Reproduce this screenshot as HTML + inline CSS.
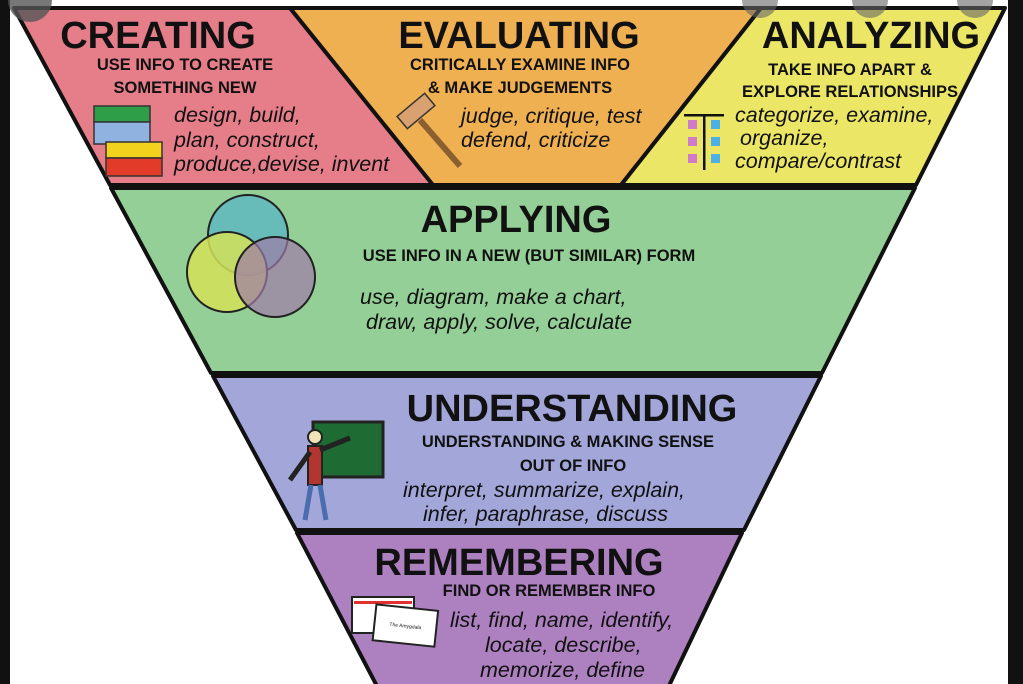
<!DOCTYPE html>
<html><head><meta charset="utf-8"><style>
html,body{margin:0;padding:0;background:#fff;}
svg{display:block;}
text{font-family:"Liberation Sans",sans-serif;fill:#111;}
.t{font-weight:bold;font-size:38px;}
.s{font-weight:bold;font-size:16.5px;}
.i{font-style:italic;font-size:21.5px;}
</style></head><body>
<svg width="1023" height="684" viewBox="0 0 1023 684" xmlns="http://www.w3.org/2000/svg">
<rect width="1023" height="684" fill="#fff"/>
<rect x="0" y="0" width="10" height="684" fill="#111"/>
<rect x="1008" y="0" width="15" height="684" fill="#111"/>
<g stroke="#111" stroke-width="4" stroke-linejoin="round">
<polygon points="14,8 290,8 433,185 110,185" fill="#e67e8a"/>
<polygon points="290,8 761,8 621,185 433,185" fill="#efb052"/>
<polygon points="761,8 1005,8 916,185 621,185" fill="#ece667"/>
<polygon points="111,188 915,188 822,373 211,373" fill="#93cf96"/>
<polygon points="213,376 821,376 744,530 296,530" fill="#a2a6d8"/>
<polygon points="297,533 742,533 667,690 379,690" fill="#ad80bf"/>
</g>
<circle cx="30" cy="0" r="22" fill="#555" opacity="0.8"/>
<circle cx="760" cy="0" r="18" fill="#666" opacity="0.6"/>
<circle cx="870" cy="0" r="18" fill="#666" opacity="0.6"/>
<circle cx="975" cy="0" r="18" fill="#666" opacity="0.6"/>

<text class="t" x="158" y="48" text-anchor="middle">CREATING</text>
<text class="s" x="185" y="70" text-anchor="middle">USE INFO TO CREATE</text>
<text class="s" x="185" y="93" text-anchor="middle">SOMETHING NEW</text>
<text class="i" x="174" y="122">design, build,</text>
<text class="i" x="174" y="147">plan, construct,</text>
<text class="i" x="174" y="171">produce,devise, invent</text>
<g stroke="#333" stroke-width="1.5">
<rect x="94" y="106" width="56" height="16" fill="#2f9e48"/>
<rect x="94" y="122" width="56" height="22" fill="#8fb2e0"/>
<rect x="106" y="142" width="56" height="16" fill="#f2d21c"/>
<rect x="106" y="158" width="56" height="18" fill="#e23b2a"/>
</g>

<text class="t" x="519" y="48" text-anchor="middle">EVALUATING</text>
<text class="s" x="520" y="70" text-anchor="middle">CRITICALLY EXAMINE INFO</text>
<text class="s" x="520" y="93" text-anchor="middle">&amp; MAKE JUDGEMENTS</text>
<text class="i" x="461" y="123">judge, critique, test</text>
<text class="i" x="461" y="147">defend, criticize</text>
<g stroke="#333" stroke-width="1.5" fill="#d9a070">
<line x1="420" y1="120" x2="460" y2="166" stroke-width="6" stroke="#8a6030"/>
<rect x="398" y="103" width="36" height="16" transform="rotate(-40 416 111)"/>
</g>

<text class="t" x="871" y="48" text-anchor="middle">ANALYZING</text>
<text class="s" x="850" y="75" text-anchor="middle">TAKE INFO APART &amp;</text>
<text class="s" x="850" y="97" text-anchor="middle">EXPLORE RELATIONSHIPS</text>
<text class="i" x="735" y="122">categorize, examine,</text>
<text class="i" x="740" y="145">organize,</text>
<text class="i" x="735" y="168">compare/contrast</text>
<g>
<rect x="684" y="114" width="40" height="2.5" fill="#111"/>
<rect x="703" y="114" width="2.5" height="56" fill="#111"/>
<rect x="688" y="120" width="9" height="9" fill="#d07ac8"/><rect x="711" y="120" width="9" height="9" fill="#4cb0e6"/>
<rect x="688" y="137" width="9" height="9" fill="#d07ac8"/><rect x="711" y="137" width="9" height="9" fill="#4cb0e6"/>
<rect x="688" y="154" width="9" height="9" fill="#d07ac8"/><rect x="711" y="154" width="9" height="9" fill="#4cb0e6"/>
</g>

<g stroke="#222" stroke-width="2">
<circle cx="248" cy="235" r="40" fill="#5fb8c0" fill-opacity="0.85"/>
<circle cx="227" cy="272" r="40" fill="#d4e058" fill-opacity="0.85"/>
<circle cx="275" cy="277" r="40" fill="#a07aa8" fill-opacity="0.7"/>
</g>
<text class="t" x="516" y="232" text-anchor="middle">APPLYING</text>
<text class="s" x="529" y="261" text-anchor="middle">USE INFO IN A NEW (BUT SIMILAR) FORM</text>
<text class="i" x="360" y="304">use, diagram, make a chart,</text>
<text class="i" x="366" y="329">draw, apply, solve, calculate</text>

<rect x="313" y="422" width="70" height="55" fill="#1f6b34" stroke="#222" stroke-width="3"/>
<circle cx="315" cy="437" r="7" fill="#f1e3b8" stroke="#222" stroke-width="2"/>
<path d="M308 446 L322 446 L322 485 L308 485 Z" fill="#b33530" stroke="#222" stroke-width="2"/>
<path d="M320 450 L350 438" stroke="#222" stroke-width="5"/>
<path d="M310 452 L290 480" stroke="#222" stroke-width="5"/>
<path d="M311 485 L305 520 M320 485 L326 520" stroke="#4a6db0" stroke-width="5"/>
<text class="t" x="572" y="421" text-anchor="middle">UNDERSTANDING</text>
<text class="s" x="568" y="447" text-anchor="middle">UNDERSTANDING &amp; MAKING SENSE</text>
<text class="s" x="573" y="471" text-anchor="middle">OUT OF INFO</text>
<text class="i" x="403" y="497">interpret, summarize, explain,</text>
<text class="i" x="423" y="521">infer, paraphrase, discuss</text>

<text class="t" x="519" y="575" text-anchor="middle">REMEMBERING</text>
<text class="s" x="549" y="596" text-anchor="middle">FIND OR REMEMBER INFO</text>
<text class="i" x="450" y="627">list, find, name, identify,</text>
<text class="i" x="485" y="652">locate, describe,</text>
<text class="i" x="480" y="677">memorize, define</text>
<rect x="352" y="597" width="62" height="36" fill="#fff" stroke="#222" stroke-width="2"/>
<rect x="354" y="601" width="58" height="3" fill="#e03030"/>
<g transform="rotate(6 410 620)">
<rect x="375" y="608" width="62" height="36" fill="#fff" stroke="#222" stroke-width="2"/>
<text x="406" y="628" font-size="5" text-anchor="middle">The Amygdala</text>
</g>
</svg>
</body></html>
